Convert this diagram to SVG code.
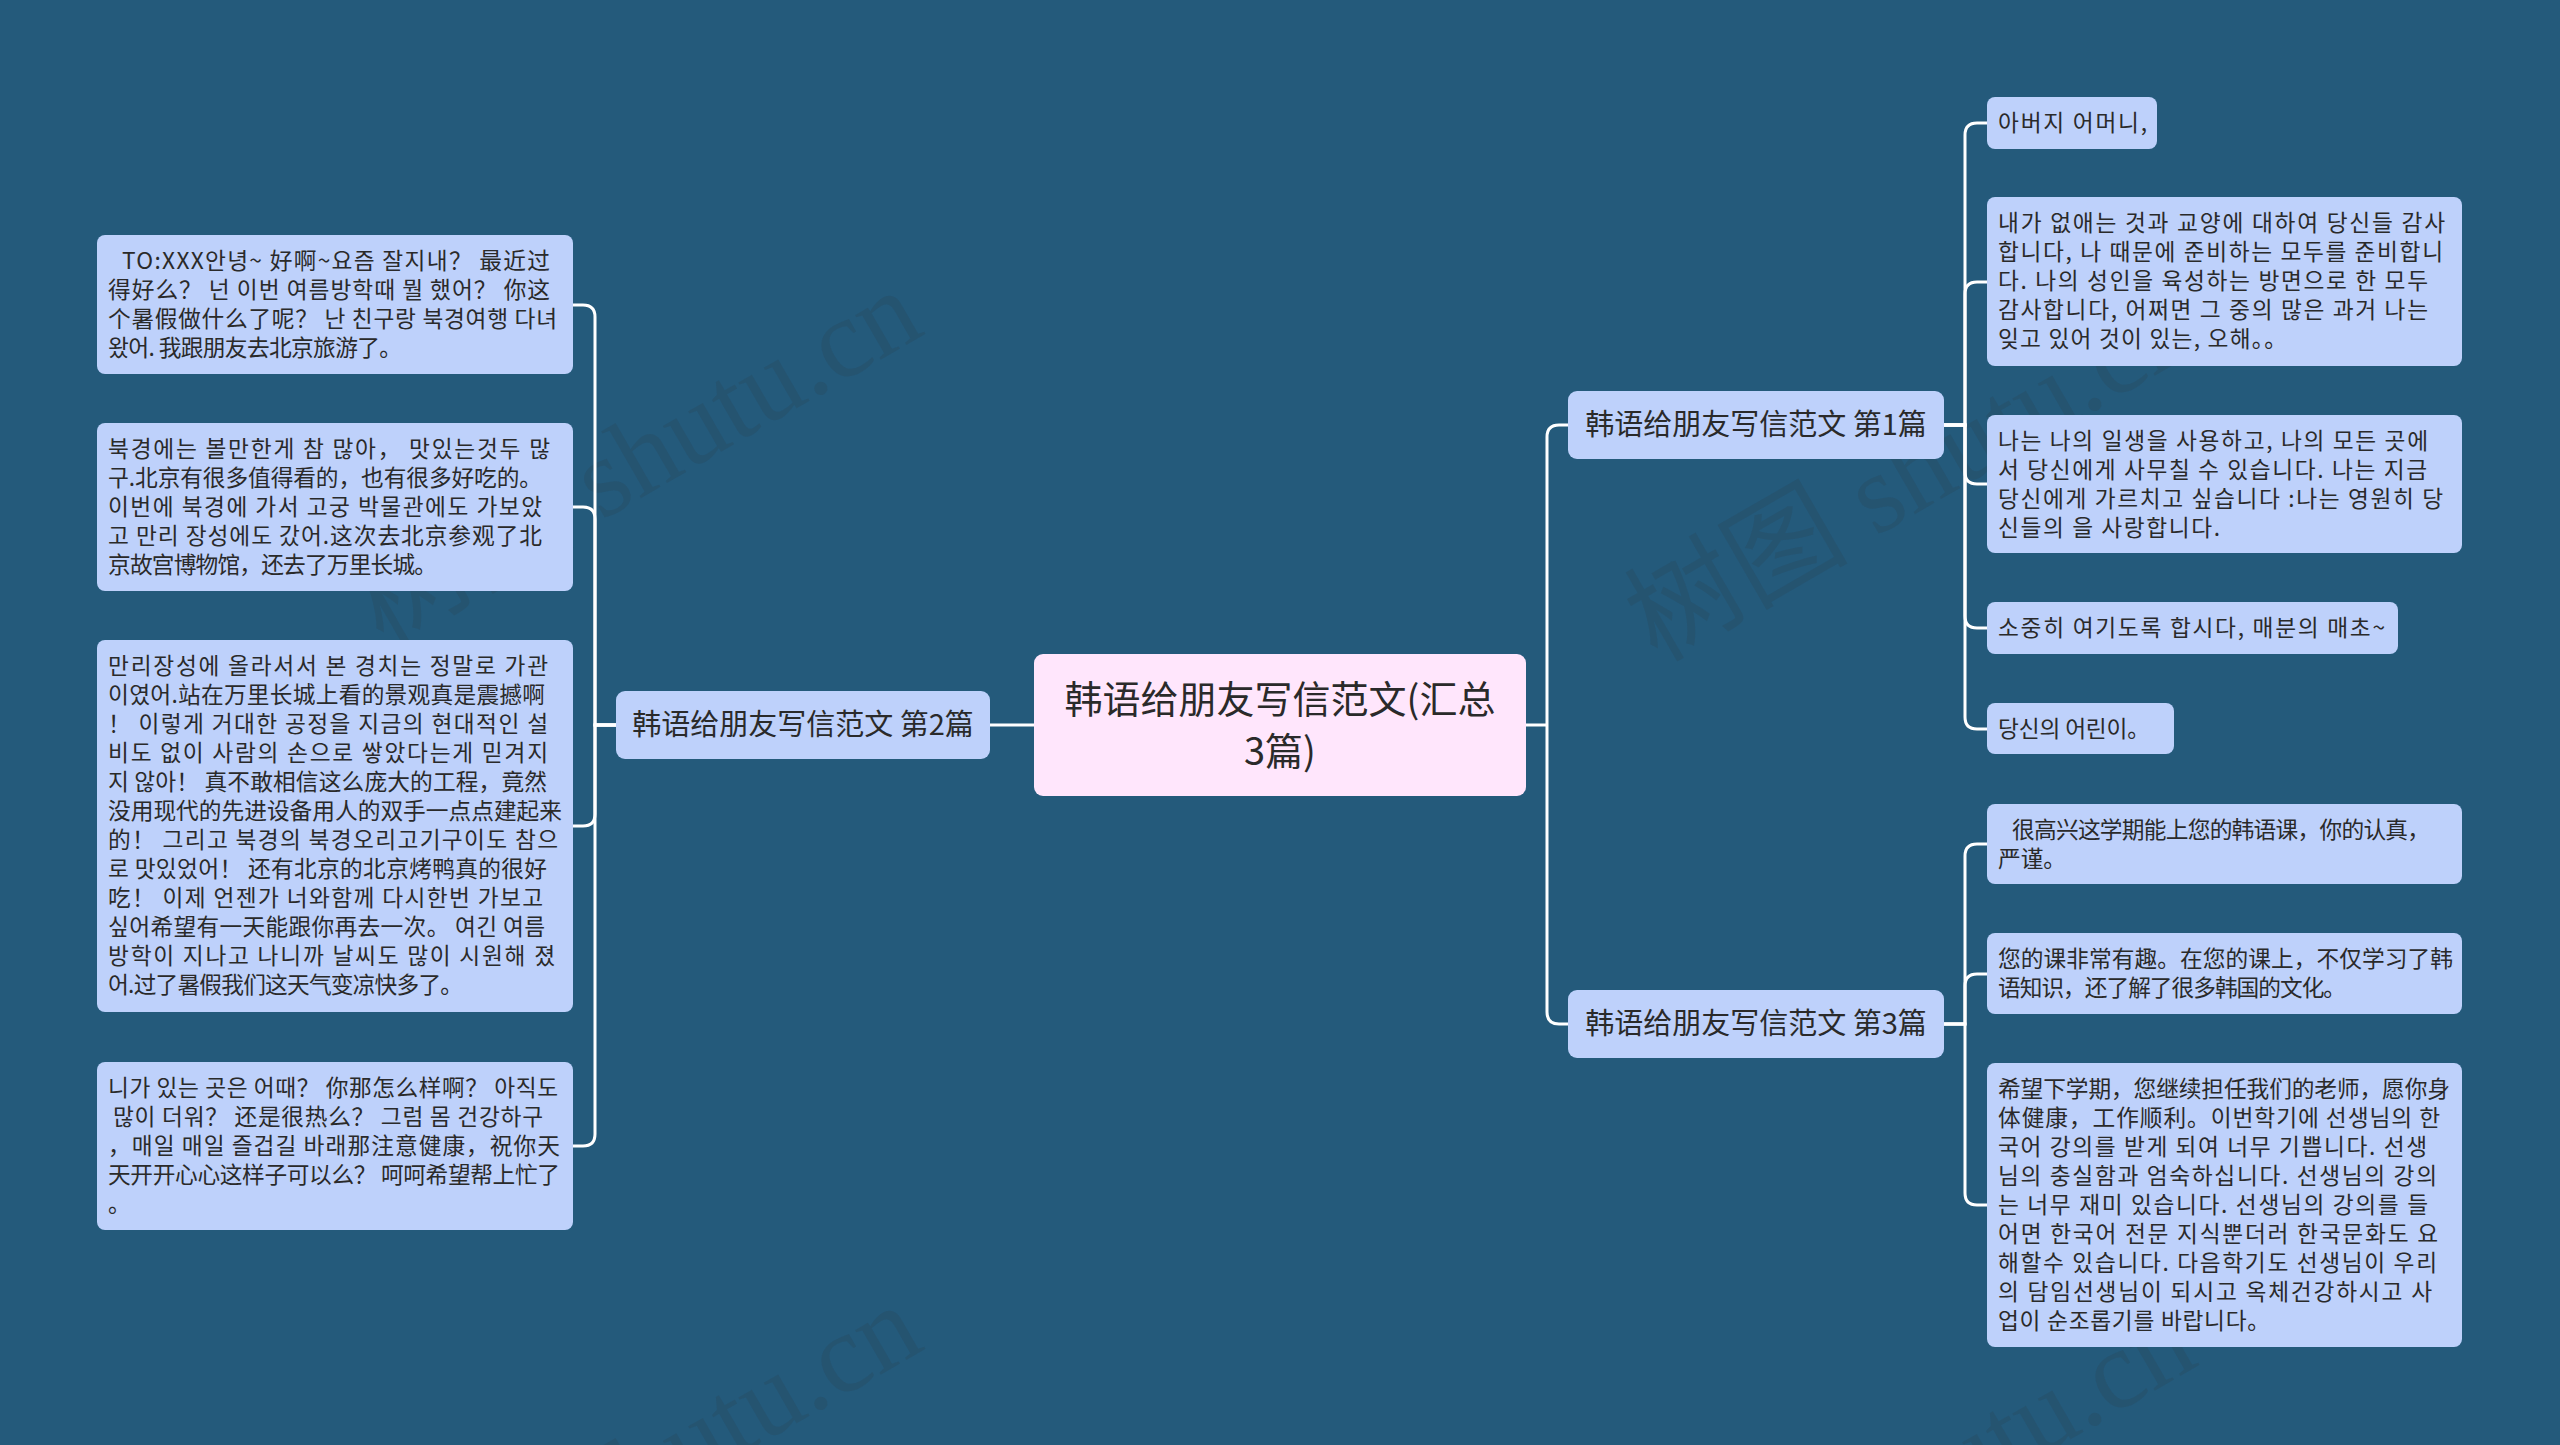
<svg xmlns="http://www.w3.org/2000/svg" width="2560" height="1445" viewBox="0 0 2560 1445">
<style>
.bg{fill:#245a7b}
.wm{font-family:"Liberation Serif","Noto Sans CJK SC",serif;font-size:112px;fill:#333333;fill-opacity:0.14}
.leaf rect{fill:#bed1fb;stroke:none}
.leaf text{font-family:"Noto Sans CJK SC","Noto Sans CJK KR",sans-serif;font-size:22.7px;fill:#2a2a2a}
.sub rect{fill:#bed1fb}
.sub text{font-family:"Noto Sans CJK SC","Noto Sans CJK KR",sans-serif;font-size:29px;fill:#2a2a2a;text-anchor:middle}
.root rect{fill:#ffe6fc}
.root text{font-family:"Noto Sans CJK SC",sans-serif;font-size:38px;fill:#2a2a2a;text-anchor:middle}
.conn path{fill:none;stroke:#ffffff;stroke-width:3}
</style>
<rect class="bg" x="0" y="0" width="2560" height="1445"/>
<g id="watermarks">
<text class="wm" transform="translate(655 490) rotate(-30)" text-anchor="middle">树图 shutu.cn</text>
<text class="wm" transform="translate(1929 506) rotate(-30)" text-anchor="middle">树图 shutu.cn</text>
<text class="wm" transform="translate(655 1505) rotate(-30)" text-anchor="middle">树图 shutu.cn</text>
<text class="wm" transform="translate(1929 1521) rotate(-30)" text-anchor="middle">树图 shutu.cn</text>
</g>
<g id="connectors" class="conn">
<path d="M1526 725 H1547"/>
<path d="M1547 725 V437 Q1547 425 1559 425 H1568"/>
<path d="M1547 725 V1012 Q1547 1024 1559 1024 H1568"/>
<path d="M990 725 H1034"/>
<path d="M616 725 H595 V317 Q595 305 583 305 H573"/>
<path d="M616 725 H595 V519 Q595 507 583 507 H573"/>
<path d="M616 725 H595 V814 Q595 826 583 826 H573"/>
<path d="M616 725 H595 V1134 Q595 1146 583 1146 H573"/>
<path d="M1944 425 H1965 V135 Q1965 123 1977 123 H1987"/>
<path d="M1944 425 H1965 V294 Q1965 282 1977 282 H1987"/>
<path d="M1944 425 H1965 V472 Q1965 484 1977 484 H1987"/>
<path d="M1944 425 H1965 V616 Q1965 628 1977 628 H1987"/>
<path d="M1944 425 H1965 V717 Q1965 729 1977 729 H1987"/>
<path d="M1944 1024 H1965 V856 Q1965 844 1977 844 H1987"/>
<path d="M1944 1024 H1965 V986 Q1965 974 1977 974 H1987"/>
<path d="M1944 1024 H1965 V1193 Q1965 1205 1977 1205 H1987"/>
</g>
<g id="root" class="root">
<rect x="1034" y="654" width="492" height="142" rx="9"/>
<text x="1280" y="713">韩语给朋友写信范文(汇总</text>
<text x="1280" y="765">3篇)</text>
</g>
<g id="topic2" class="sub">
<rect x="616" y="691" width="374" height="68" rx="9"/>
<text x="803" y="735">韩语给朋友写信范文 第2篇</text>
</g>
<g id="topic1" class="sub">
<rect x="1568" y="391" width="376" height="68" rx="9"/>
<text x="1756" y="435">韩语给朋友写信范文 第1篇</text>
</g>
<g id="topic3" class="sub">
<rect x="1568" y="990" width="376" height="68" rx="9"/>
<text x="1756" y="1034">韩语给朋友写信范文 第3篇</text>
</g>
<g id="l1" class="leaf">
<rect x="97" y="235" width="476" height="139" rx="8"/>
<text x="122" y="269" textLength="428" lengthAdjust="spacing">TO:XXX안녕~ 好啊~요즘 잘지내？ 最近过</text>
<text x="108" y="298" textLength="442" lengthAdjust="spacing">得好么？ 넌 이번 여름방학때 뭘 했어？ 你这</text>
<text x="108" y="327" textLength="449" lengthAdjust="spacing">个暑假做什么了呢？ 난 친구랑 북경여행 다녀</text>
<text x="108" y="356" textLength="294" lengthAdjust="spacing">왔어. 我跟朋友去北京旅游了。</text>
</g>
<g id="l2" class="leaf">
<rect x="97" y="423" width="476" height="168" rx="8"/>
<text x="108" y="457" textLength="442" lengthAdjust="spacing">북경에는 볼만한게 참 많아， 맛있는것두 많</text>
<text x="108" y="486" textLength="434" lengthAdjust="spacing">구.北京有很多值得看的，也有很多好吃的。</text>
<text x="108" y="515" textLength="434" lengthAdjust="spacing">이번에 북경에 가서 고궁 박물관에도 가보았</text>
<text x="108" y="544" textLength="434" lengthAdjust="spacing">고 만리 장성에도 갔어.这次去北京参观了北</text>
<text x="108" y="573" textLength="329" lengthAdjust="spacing">京故宫博物馆，还去了万里长城。</text>
</g>
<g id="l3" class="leaf">
<rect x="97" y="640" width="476" height="372" rx="8"/>
<text x="108" y="674" textLength="440" lengthAdjust="spacing">만리장성에 올라서서 본 경치는 정말로 가관</text>
<text x="108" y="703" textLength="437" lengthAdjust="spacing">이였어.站在万里长城上看的景观真是震撼啊</text>
<text x="108" y="732" textLength="440" lengthAdjust="spacing">！ 이렇게 거대한 공정을 지금의 현대적인 설</text>
<text x="108" y="761" textLength="440" lengthAdjust="spacing">비도 없이 사람의 손으로 쌓았다는게 믿겨지</text>
<text x="108" y="790" textLength="439" lengthAdjust="spacing">지 않아！ 真不敢相信这么庞大的工程，竟然</text>
<text x="108" y="819" textLength="454" lengthAdjust="spacing">没用现代的先进设备用人的双手一点点建起来</text>
<text x="108" y="848" textLength="450" lengthAdjust="spacing">的！ 그리고 북경의 북경오리고기구이도 참으</text>
<text x="108" y="877" textLength="439" lengthAdjust="spacing">로 맛있었어！ 还有北京的北京烤鸭真的很好</text>
<text x="108" y="906" textLength="435" lengthAdjust="spacing">吃！ 이제 언젠가 너와함께 다시한번 가보고</text>
<text x="108" y="935" textLength="437" lengthAdjust="spacing">싶어希望有一天能跟你再去一次。 여긴 여름</text>
<text x="108" y="964" textLength="447" lengthAdjust="spacing">방학이 지나고 나니까 날씨도 많이 시원해 졌</text>
<text x="108" y="993" textLength="355" lengthAdjust="spacing">어.过了暑假我们这天气变凉快多了。</text>
</g>
<g id="l4" class="leaf">
<rect x="97" y="1062" width="476" height="168" rx="8"/>
<text x="108" y="1096" textLength="450" lengthAdjust="spacing">니가 있는 곳은 어때？ 你那怎么样啊？ 아직도</text>
<text x="113" y="1125" textLength="430" lengthAdjust="spacing">많이 더워？ 还是很热么？ 그럼 몸 건강하구</text>
<text x="108" y="1154" textLength="452" lengthAdjust="spacing">，매일 매일 즐겁길 바래那注意健康，祝你天</text>
<text x="108" y="1183" textLength="452" lengthAdjust="spacing">天开开心心这样子可以么？ 呵呵希望帮上忙了</text>
<text x="108" y="1212">。</text>
</g>
<g id="r1" class="leaf">
<rect x="1987" y="97" width="170" height="52" rx="8"/>
<text x="1998" y="131" textLength="149" lengthAdjust="spacing">아버지 어머니,</text>
</g>
<g id="r2" class="leaf">
<rect x="1987" y="197" width="475" height="169" rx="8"/>
<text x="1998" y="231" textLength="447" lengthAdjust="spacing">내가 없애는 것과 교양에 대하여 당신들 감사</text>
<text x="1998" y="260" textLength="445" lengthAdjust="spacing">합니다, 나 때문에 준비하는 모두를 준비합니</text>
<text x="1998" y="289" textLength="430" lengthAdjust="spacing">다. 나의 성인을 육성하는 방면으로 한 모두</text>
<text x="1998" y="318" textLength="430" lengthAdjust="spacing">감사합니다, 어쩌면 그 중의 많은 과거 나는</text>
<text x="1998" y="347" textLength="289" lengthAdjust="spacing">잊고 있어 것이 있는, 오해。。</text>
</g>
<g id="r3" class="leaf">
<rect x="1987" y="415" width="475" height="138" rx="8"/>
<text x="1998" y="449" textLength="430" lengthAdjust="spacing">나는 나의 일생을 사용하고, 나의 모든 곳에</text>
<text x="1998" y="478" textLength="429" lengthAdjust="spacing">서 당신에게 사무칠 수 있습니다. 나는 지금</text>
<text x="1998" y="507" textLength="445" lengthAdjust="spacing">당신에게 가르치고 싶습니다 :나는 영원히 당</text>
<text x="1998" y="536" textLength="222" lengthAdjust="spacing">신들의 을 사랑합니다.</text>
</g>
<g id="r4" class="leaf">
<rect x="1987" y="602" width="411" height="52" rx="8"/>
<text x="1998" y="636" textLength="387" lengthAdjust="spacing">소중히 여기도록 합시다, 매분의 매초~</text>
</g>
<g id="r5" class="leaf">
<rect x="1987" y="703" width="187" height="51" rx="8"/>
<text x="1998" y="737" textLength="152" lengthAdjust="spacing">당신의 어린이。</text>
</g>
<g id="r6" class="leaf">
<rect x="1987" y="804" width="475" height="80" rx="8"/>
<text x="2012" y="838" textLength="418" lengthAdjust="spacing">很高兴这学期能上您的韩语课，你的认真，</text>
<text x="1998" y="867">严谨。</text>
</g>
<g id="r7" class="leaf">
<rect x="1987" y="933" width="475" height="81" rx="8"/>
<text x="1998" y="967" textLength="455" lengthAdjust="spacing">您的课非常有趣。在您的课上，不仅学习了韩</text>
<text x="1998" y="996" textLength="348" lengthAdjust="spacing">语知识，还了解了很多韩国的文化。</text>
</g>
<g id="r8" class="leaf">
<rect x="1987" y="1063" width="475" height="284" rx="8"/>
<text x="1998" y="1097" textLength="452" lengthAdjust="spacing">希望下学期，您继续担任我们的老师，愿你身</text>
<text x="1998" y="1126" textLength="442" lengthAdjust="spacing">体健康，工作顺利。이번학기에 선생님의 한</text>
<text x="1998" y="1155" textLength="429" lengthAdjust="spacing">국어 강의를 받게 되여 너무 기쁩니다. 선생</text>
<text x="1998" y="1184" textLength="439" lengthAdjust="spacing">님의 충실함과 엄숙하십니다. 선생님의 강의</text>
<text x="1998" y="1213" textLength="430" lengthAdjust="spacing">는 너무 재미 있습니다. 선생님의 강의를 들</text>
<text x="1998" y="1242" textLength="440" lengthAdjust="spacing">어면 한국어 전문 지식뿐더러 한국문화도 요</text>
<text x="1998" y="1271" textLength="439" lengthAdjust="spacing">해할수 있습니다. 다음학기도 선생님이 우리</text>
<text x="1998" y="1300" textLength="434" lengthAdjust="spacing">의 담임선생님이 되시고 옥체건강하시고 사</text>
<text x="1998" y="1329" textLength="272" lengthAdjust="spacing">업이 순조롭기를 바랍니다。</text>
</g>
</svg>
